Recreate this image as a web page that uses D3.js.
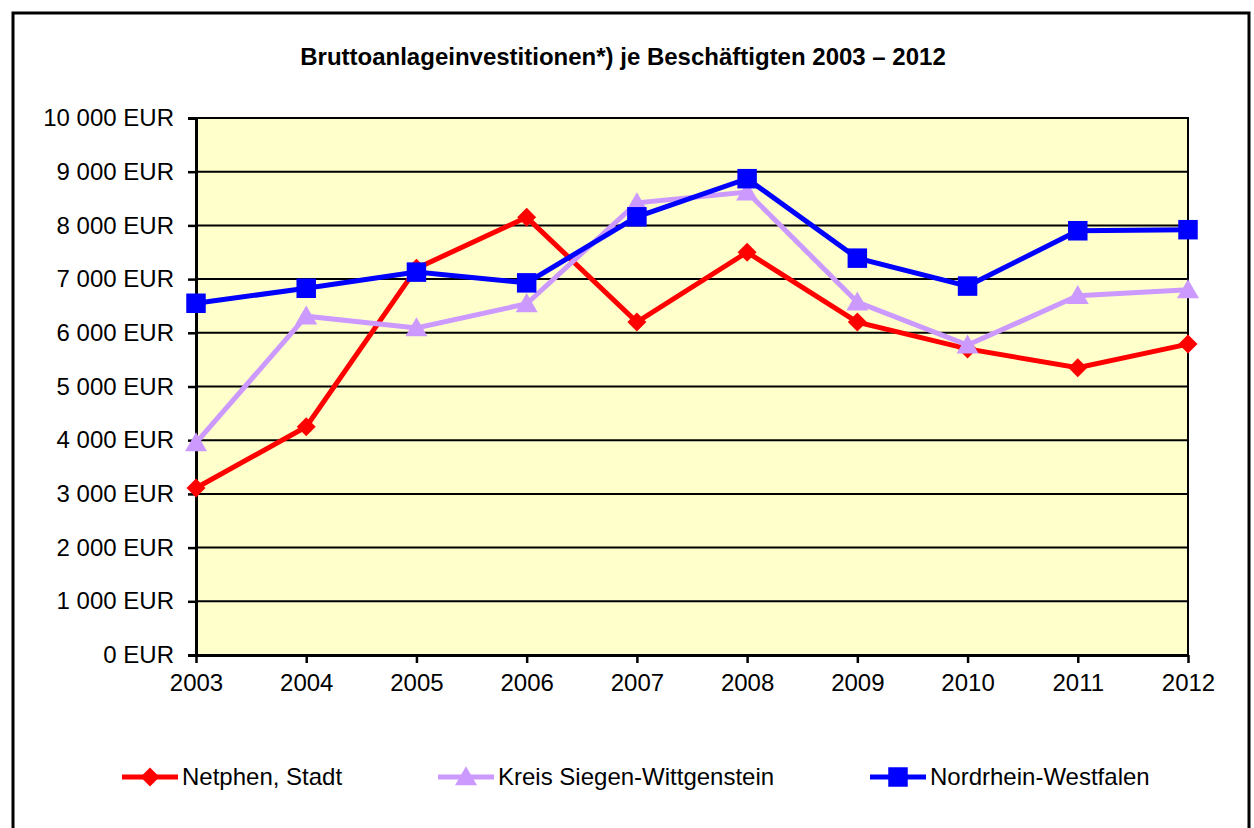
<!DOCTYPE html>
<html>
<head>
<meta charset="utf-8">
<script src="https://cdn.jsdelivr.net/npm/d3@7"></script>
<style>
  body { margin: 0; background: #fff; }
  text { font-family: Arial, "Liberation Sans", sans-serif; }
</style>
</head>
<body>
<div id="chart"></div>
<script>
var years = ["2003", "2004", "2005", "2006", "2007", "2008", "2009", "2010", "2011", "2012"];
var netphen = [3110, 4250, 7200, 8150, 6200, 7500, 6200, 5700, 5350, 5790];
var kreis = [3950, 6310, 6090, 6540, 8420, 8620, 6570, 5770, 6690, 6800];
var nrw = [6550, 6830, 7130, 6930, 8160, 8870, 7390, 6870, 7900, 7920];
var yTicks = [0, 1000, 2000, 3000, 4000, 5000, 6000, 7000, 8000, 9000, 10000];

var series = [
  { name: "Netphen, Stadt", values: netphen, color: "#ff0000", marker: "diamond" },
  { name: "Kreis Siegen-Wittgenstein", values: kreis, color: "#cc99ff", marker: "triangle" },
  { name: "Nordrhein-Westfalen", values: nrw, color: "#0000ff", marker: "square" }
];

var width = 1254, height = 828;
var svg = d3.select("#chart").append("svg")
    .attr("width", width)
    .attr("height", height)

// outer frame
svg.append("rect")
    .attr("x", 13).attr("y", 13)
    .attr("width", 1236).attr("height", 830)
    .attr("fill", "#fff")
    .attr("stroke", "#000")
    .attr("stroke-width", 3)

svg.append("text")
    .attr("x", 623).attr("y", 65)
    .attr("text-anchor", "middle")
    .attr("font-size", 24)
    .attr("font-weight", "bold")
    .text("Bruttoanlageinvestitionen*) je Beschäftigten 2003 – 2012")

var plotL = 196, plotR = 1188, plotT = 118, plotB = 655;

var x = d3.scalePoint().domain(years).range([plotL, plotR]);
var y = d3.scaleLinear().domain([0, 10000]).range([plotB, plotT]);

svg.append("rect")
    .attr("x", plotL).attr("y", plotT)
    .attr("width", plotR - plotL).attr("height", plotB - plotT)
    .attr("fill", "#ffffcc")
    .attr("stroke", "#000")
    .attr("stroke-width", 2)

// gridlines
svg.append("g").selectAll("line")
    .data(yTicks.filter(d => d > 0))
    .enter().append("line")
      .attr("x1", plotL).attr("x2", plotR)
      .attr("y1", d => y(d)).attr("y2", d => y(d))
      .attr("stroke", "#000")
      .attr("stroke-width", 2)

var fmt = function(d) {
  var s = d3.format(",")(d).replace(/,/g, " ");
  return s + " EUR";
};

var yAxis = svg.append("g")
    .attr("transform", "translate(" + plotL + ",0)")
    .call(d3.axisLeft(y).tickValues(yTicks).tickFormat(fmt).tickSize(8).tickPadding(14))
yAxis.select(".domain").attr("stroke-width", 3)
yAxis.selectAll(".tick line").attr("stroke-width", 2.5)
yAxis.selectAll("text").attr("font-size", 24).attr("fill", "#000")

var xAxis = svg.append("g")
    .attr("transform", "translate(0," + plotB + ")")
    .call(d3.axisBottom(x).tickSize(8).tickPadding(11).tickSizeOuter(0))
xAxis.select(".domain").attr("stroke-width", 3)
xAxis.selectAll(".tick line").attr("stroke-width", 2.5)
xAxis.selectAll("text").attr("font-size", 24).attr("fill", "#000")

var symbolFor = {
  diamond: function() { return d3.symbol().type(d3.symbolSquare).size(180)(); },
  triangle: function() { return d3.symbol().type(d3.symbolTriangle).size(210)(); },
  square: function() { return d3.symbol().type(d3.symbolSquare).size(380)(); }
};
var rotFor = { diamond: 45, triangle: 0, square: 0 };

var line = d3.line()
    .x((d, i) => x(years[i]))
    .y(d => y(d))

series.forEach(function(s) {
  svg.append("path")
      .datum(s.values)
      .attr("d", line)
      .attr("fill", "none")
      .attr("stroke", s.color)
      .attr("stroke-width", 5)
      .attr("stroke-linejoin", "miter")
  svg.append("g").selectAll("path")
      .data(s.values)
      .enter().append("path")
        .attr("d", symbolFor[s.marker]())
        .attr("fill", s.color)
        .attr("transform", (d, i) => "translate(" + x(years[i]) + "," + (y(d) + (s.marker == "triangle" ? 2 : 0)) + ") rotate(" + rotFor[s.marker] + ")")
});

// legend
var legendX = [122, 438, 870];
var legend = svg.append("g")
var item = legend.selectAll("g")
    .data(series)
    .enter().append("g")
    .attr("transform", (d, i) => "translate(" + legendX[i] + ",777)")

item.append("line")
    .attr("x1", 0).attr("x2", 56)
    .attr("stroke", d => d.color)
    .attr("stroke-width", 5)
item.append("path")
    .attr("d", d => symbolFor[d.marker]())
    .attr("fill", d => d.color)
    .attr("transform", d => "translate(28," + (d.marker == "triangle" ? 2 : 0) + ") rotate(" + rotFor[d.marker] + ")")
item.append("text")
    .attr("x", 60).attr("y", 8)
    .attr("font-size", 24)
    .text(d => d.name)
</script>
</body>
</html>
